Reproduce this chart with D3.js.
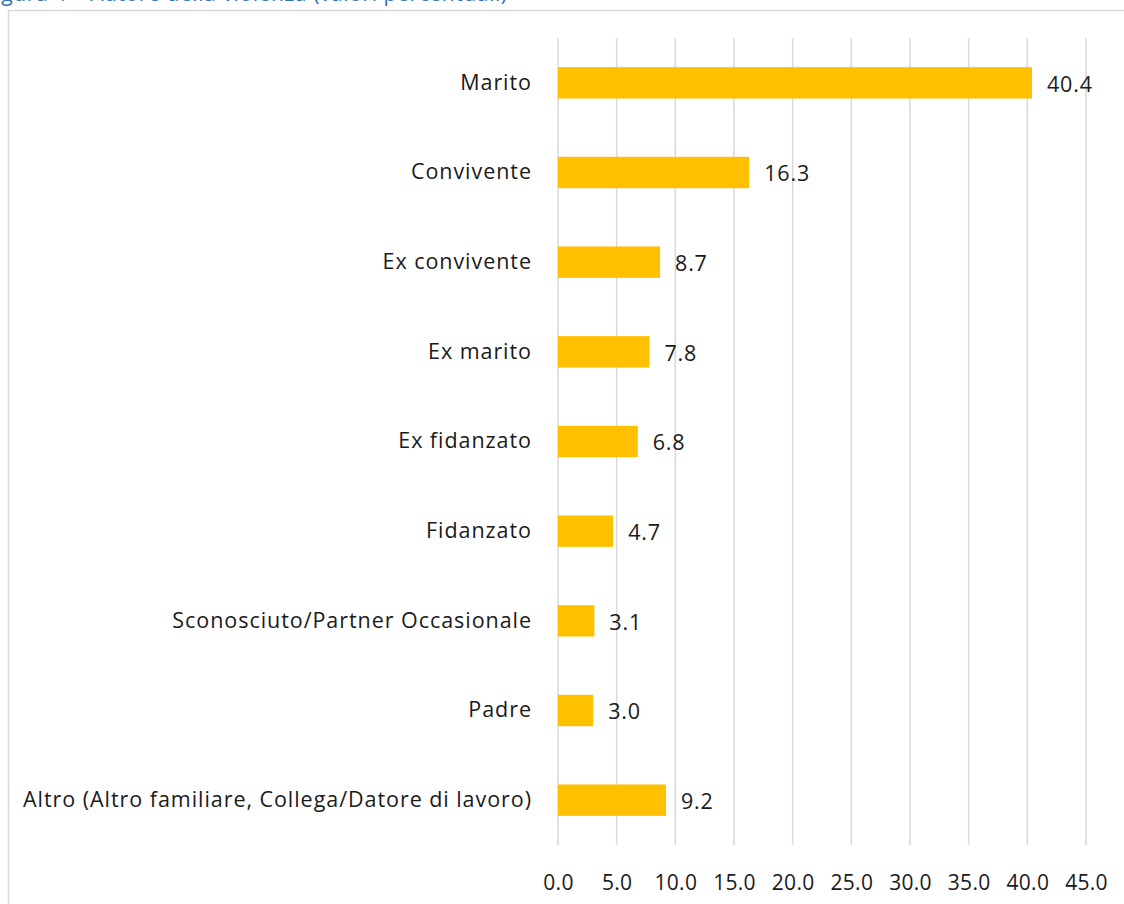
<!DOCTYPE html>
<html>
<head>
<meta charset="utf-8">
<script src="https://cdn.jsdelivr.net/npm/d3@7"></script>
<style>
  html, body { margin: 0; padding: 0; background: #fff; }
  svg { display: block; }
</style>
</head>
<body>
<svg id="chart" width="1124" height="904"></svg>
<script>
// Autore della violenza, valori percentuali
const categories = [
  "Marito",
  "Convivente",
  "Ex convivente",
  "Ex marito",
  "Ex fidanzato",
  "Fidanzato",
  "Sconosciuto/Partner Occasionale",
  "Padre",
  "Altro (Altro familiare, Collega/Datore di lavoro)"
];
const values = [40.4, 16.3, 8.7, 7.8, 6.8, 4.7, 3.1, 3.0, 9.2];
const xTicks = [0, 5, 10, 15, 20, 25, 30, 35, 40, 45];
const titleText = "Figura 4 – Autore della violenza (valori percentuali)";

const svg = d3.select("#chart");
const font = "'Open Sans', sans-serif";

// title strip, clipped by the top of the page
svg.append("text")
  .attr("x", -16).attr("y", 1)
  .attr("font-family", font).attr("font-size", 21)
  .attr("letter-spacing", 0.6)
  .attr("fill", "#2F75B5")
  .text(titleText);

// chart frame
svg.append("rect")
  .attr("x", 8.5).attr("y", 10.5)
  .attr("width", 1130).attr("height", 910)
  .attr("fill", "#fff").attr("stroke", "#D9D9D9").attr("stroke-width", 1.5);

const plot = { left: 558, right: 1086, top: 38, bottom: 845 };

const x = d3.scaleLinear().domain([0, 45]).range([plot.left, plot.right]);
const y = d3.scaleBand().domain(categories).range([plot.top, plot.bottom]).paddingInner(0.65).paddingOuter(0.325);

// vertical gridlines
svg.append("g")
  .selectAll("line")
  .data(xTicks)
  .join("line")
  .attr("x1", d => x(d)).attr("x2", d => x(d))
  .attr("y1", plot.top).attr("y2", plot.bottom)
  .attr("stroke", "#D9D9D9").attr("stroke-width", 1.5);

// bars
svg.append("g")
  .selectAll("rect")
  .data(values)
  .join("rect")
  .attr("x", x(0))
  .attr("y", (d, i) => y(categories[i]))
  .attr("width", d => x(d) - x(0))
  .attr("height", y.bandwidth())
  .attr("fill", "#FFC000");

// value labels
svg.append("g")
  .selectAll("text")
  .data(values)
  .join("text")
  .attr("x", d => x(d) + 15)
  .attr("y", (d, i) => y(categories[i]) + y.bandwidth() / 2 + 1)
  .attr("dy", "0.36em")
  .attr("font-family", font).attr("font-size", 21.5)
  .attr("letter-spacing", 0.8)
  .attr("fill", "#1a1a1a")
  .text(d => d3.format(".1f")(d));

// category axis labels
const yAxis = d3.axisLeft(y).tickSize(0).tickPadding(26);
const gy = svg.append("g").attr("transform", `translate(${plot.left},0)`).call(yAxis);
gy.select(".domain").remove();
gy.selectAll("text")
  .attr("font-family", font).attr("font-size", 21.5).attr("fill", "#1a1a1a")
  .attr("letter-spacing", 0.95);

// value axis labels
const xAxis = d3.axisBottom(x).tickValues(xTicks).tickSize(0).tickPadding(0).tickFormat(d3.format(".1f"));
const gx = svg.append("g").attr("transform", `translate(0,${plot.bottom})`).call(xAxis);
gx.select(".domain").remove();
gx.selectAll("text")
  .attr("font-family", font).attr("font-size", 21).attr("fill", "#1a1a1a")
  .attr("letter-spacing", 0.3)
  .attr("dy", null).attr("y", 45);
</script>
</body>
</html>
